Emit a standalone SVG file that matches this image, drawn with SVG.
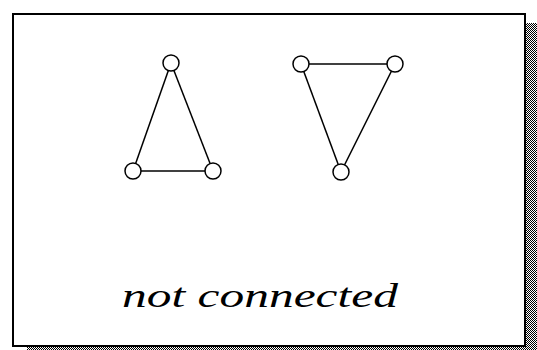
<svg xmlns="http://www.w3.org/2000/svg" width="537" height="350" viewBox="0 0 537 350">
<style>
.node circle{fill:#fff;stroke:#000;stroke-width:1.5}
.edges line{stroke:#000;stroke-width:1.5}
.label{font-family:"Liberation Serif","Times New Roman",serif;font-style:italic;font-size:34px;fill:#000}
</style>
<defs>
<pattern id="dither" x="0" y="0" width="2" height="2" patternUnits="userSpaceOnUse">
<rect x="0" y="0" width="2" height="2" fill="#fff"/>
<rect x="0" y="0" width="1" height="1" fill="#000"/>
<rect x="1" y="1" width="1" height="1" fill="#000"/>
</pattern>
</defs>
<rect width="537" height="350" fill="#fff"/>
<rect x="526" y="23" width="11" height="327" fill="url(#dither)"/>
<rect x="27" y="347" width="510" height="3" fill="url(#dither)"/>
<rect x="13" y="14" width="512" height="332" fill="#fff" stroke="#000" stroke-width="2"/>
<g class="edges">
<line x1="171" y1="63" x2="133" y2="171"/>
<line x1="171" y1="63" x2="213" y2="171"/>
<line x1="133" y1="171" x2="213" y2="171"/>
<line x1="301" y1="64" x2="395" y2="64"/>
<line x1="301" y1="64" x2="341" y2="172"/>
<line x1="395" y1="64" x2="341" y2="172"/>
</g>
<g id="n1" class="node"><circle cx="171" cy="63" r="8"/></g>
<g id="n2" class="node"><circle cx="133" cy="171" r="8"/></g>
<g id="n3" class="node"><circle cx="213" cy="171" r="8"/></g>
<g id="n4" class="node"><circle cx="301" cy="64" r="8"/></g>
<g id="n5" class="node"><circle cx="395" cy="64" r="8"/></g>
<g id="n6" class="node"><circle cx="341" cy="172" r="8"/></g>
<text class="label" x="122" y="307" textLength="276" lengthAdjust="spacingAndGlyphs">not connected</text>
</svg>
